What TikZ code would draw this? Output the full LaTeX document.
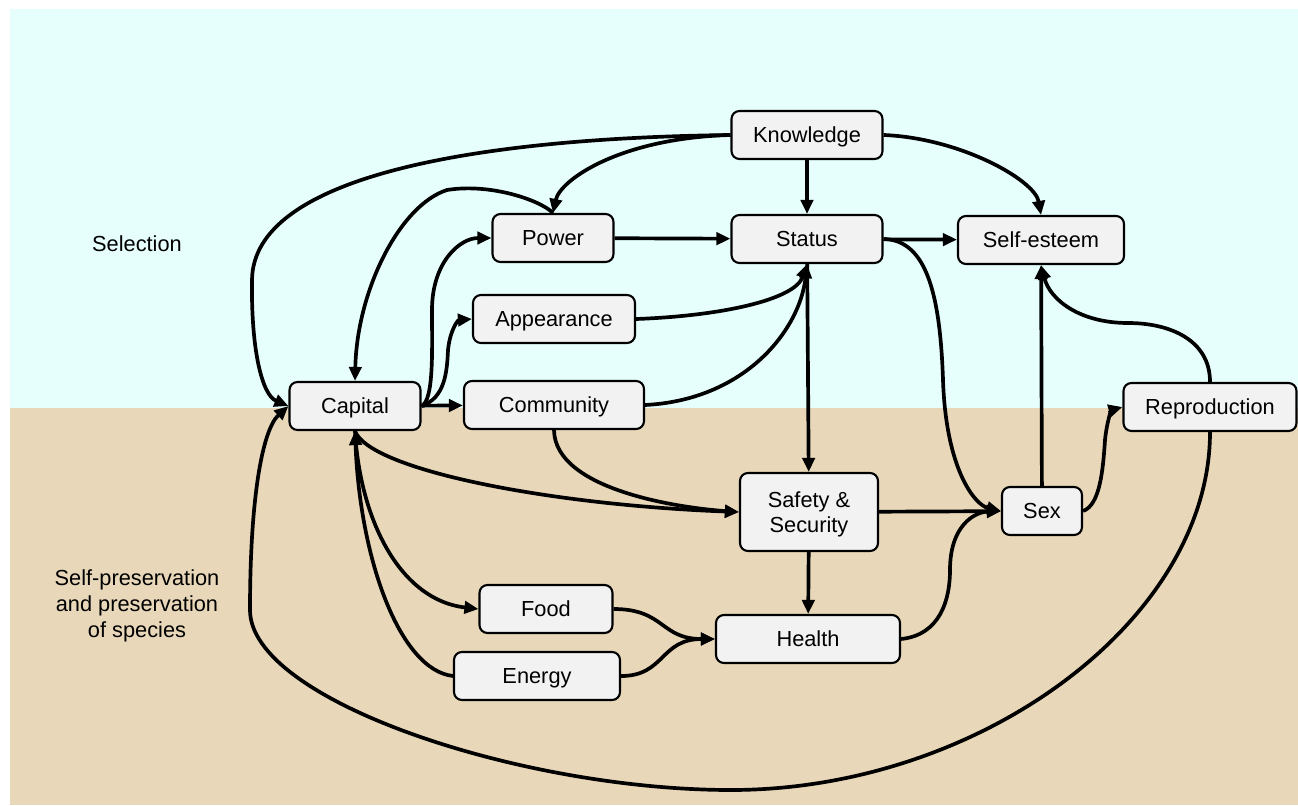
\documentclass[tikz,border=0pt]{standalone}
\usepackage{fontspec}
\setmainfont{Liberation Sans}
\usetikzlibrary{arrows.meta}
\definecolor{skyband}{RGB}{230,255,252}
\definecolor{groundband}{RGB}{232,216,185}
\definecolor{boxgray}{RGB}{242,242,242}

\begin{document}
\begin{tikzpicture}[x=0.02cm, y=-0.02cm,
    every node/.style={font=\fontsize{12.4}{15}\selectfont},
    boxbase/.style={draw, rectangle, rounded corners=4.5pt, fill=boxgray, line width=1.2pt, minimum height=0.96cm, align=center, inner sep=2pt},
    box/.style={boxbase, text height=8.9pt, text depth=0pt},
    link/.style={-{Triangle[length=8pt,width=7pt]}, line width=2.1pt}]
    % Background
    \useasboundingbox (0,0) rectangle (1298,805);
    \fill[skyband] (10,9) rectangle (1298,408);
    \fill[groundband] (10,408) rectangle (1298,805);

    % Side labels
    \node (selection) at (137,244) {Selection};
    \node[align=center] (preservation) at (137,606) {Self-preservation\\and preservation\\of species};

    % Upper nodes
    \node[box, minimum width=3.02cm] (knowledge) at (807,135) {Knowledge};
    \node[box, minimum width=3.02cm] (status) at (807,239) {Status};
    \node[box, minimum width=3.32cm] (selfesteem) at (1041,240) {Self-esteem};
    \node[box, minimum width=2.42cm] (power) at (553,238) {Power};
    \node[box, minimum width=3.24cm] (appearance) at (554,319) {Appearance};

    % Middle row
    \node[box, minimum width=2.62cm] (capital) at (355,406) {Capital};
    \node[box, minimum width=3.6cm] (community) at (554,405) {Community};
    \node[box, minimum width=3.46cm] (reproduction) at (1210,407) {Reproduction};

    % Lower nodes
    \node[boxbase, minimum width=2.76cm, minimum height=1.56cm, font=\fontsize{12.4}{14.3}\selectfont, text height=23.2pt, text depth=0pt] (safety) at (809,512) {Safety \&\\Security};
    \node[box, minimum width=1.6cm] (sex) at (1042,511) {Sex};
    \node[box, minimum width=2.66cm] (food) at (546,609) {Food};
    \node[box, minimum width=3.32cm] (energy) at (537,676) {Energy};
    \node[box, minimum width=3.68cm] (health) at (808,639) {Health};

    % Edges from Knowledge
    \draw[link] (knowledge.west) .. controls (480,138) and (253,175) .. (252,280) .. controls (251,350) and (262,395) .. (capital.west);
    \draw[link] (knowledge.west) .. controls (620,138) and (560,180) .. (power.north);
    \draw[link] (knowledge) -- (status);
    \draw[link] (knowledge.east) .. controls (960,138) and (1035,180) .. (selfesteem.north);

    % Capital and Power
    \draw[link] (power.north) .. controls (540,200) and (490,183) .. (447,190) .. controls (400,205) and (357,290) .. (capital.north);
    \draw[link] (capital.east) .. controls (434,400) and (432,350) .. (432,310) .. controls (432,262) and (460,238) .. (power.west);
    \draw[link] (capital.east) .. controls (445,398) and (447,372) .. (448,350) .. controls (450,330) and (458,320) .. (appearance.west);
    \draw[link] (capital) -- (community);

    % Into Status
    \draw[link] (power) -- (status);
    \draw[link] (appearance.east) .. controls (720,316) and (795,300) .. (status.south);
    \draw[link] (community.east) .. controls (745,400) and (800,330) .. (status.south);

    % Out of Status
    \draw[link] (status) -- (safety);
    \draw[link] (status) -- (selfesteem);
    \draw[link] (status.east) .. controls (925,240) and (940,290) .. (943,380) .. controls (946,470) and (975,505) .. (sex.west);

    % Sex and Reproduction
    \draw[link] (safety) -- (sex);
    \draw[link] (sex) -- (selfesteem);
    \draw[link] (reproduction.north) .. controls (1210,340) and (1170,323) .. (1128,323) .. controls (1080,323) and (1050,300) .. (selfesteem.south);
    \draw[link] (sex.east) .. controls (1100,505) and (1103,470) .. (1105,440) .. controls (1107,420) and (1112,410) .. (reproduction.west);
    \draw[link] (reproduction.south) .. controls (1210,620) and (980,790) .. (731,790) .. controls (520,790) and (250,700) .. (250,610) .. controls (250,500) and (262,430) .. (capital.west);

    % Lower part
    \draw[link] (capital.south) .. controls (370,470) and (550,505) .. (safety.west);
    \draw[link] (capital.south) .. controls (360,520) and (400,600) .. (food.west);
    \draw[link] (energy.west) .. controls (400,670) and (360,560) .. (capital.south);
    \draw[link] (community.south) .. controls (555,490) and (680,508) .. (safety.west);
    \draw[link] (safety) -- (health);
    \draw[link] (food.east) .. controls (665,609) and (660,639) .. (health.west);
    \draw[link] (energy.east) .. controls (665,676) and (660,639) .. (health.west);
    \draw[link] (health.east) .. controls (940,635) and (950,600) .. (950,570) .. controls (950,525) and (975,512) .. (sex.west);
\end{tikzpicture}
\end{document}
